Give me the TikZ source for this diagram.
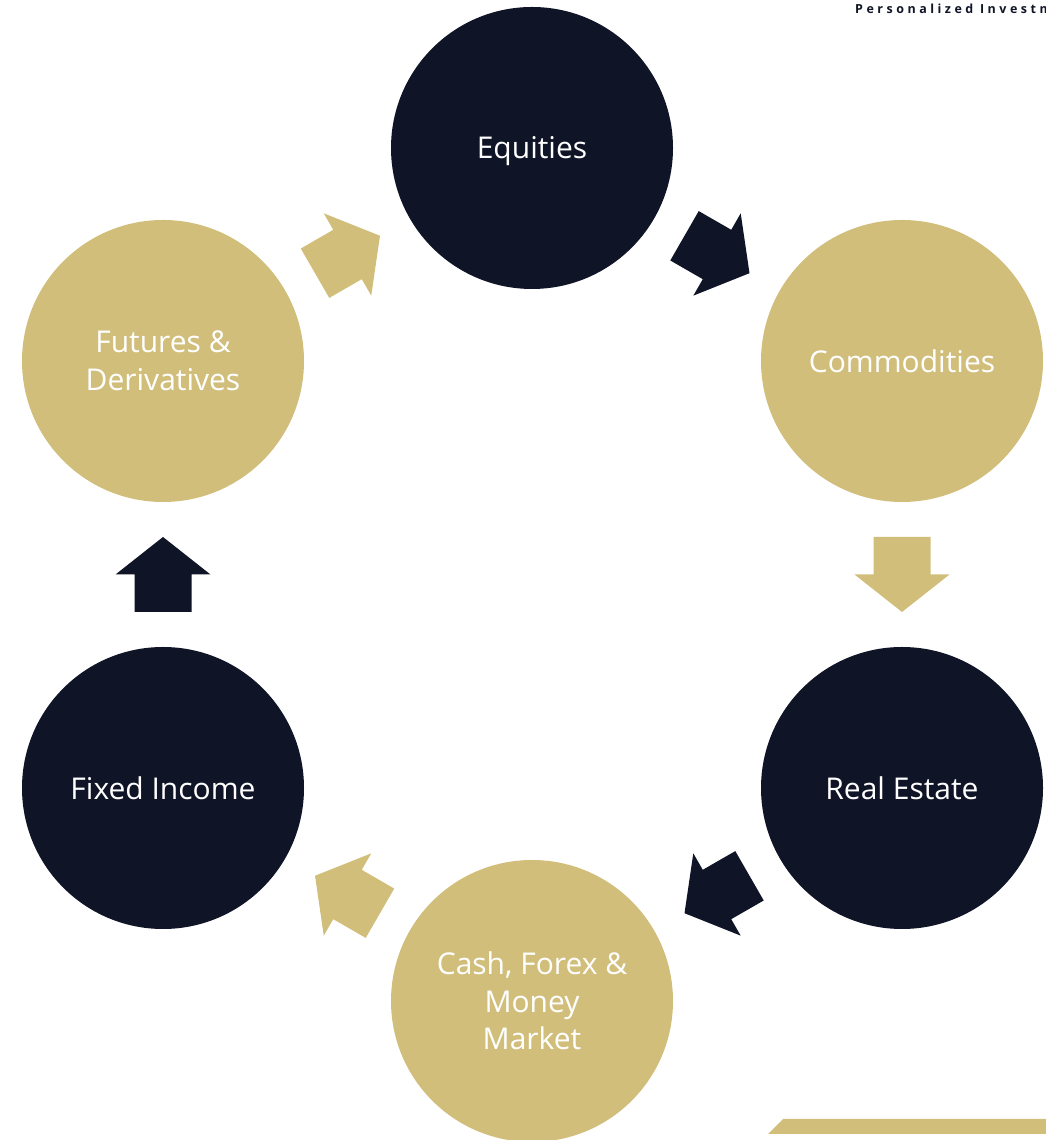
\documentclass[tikz,border=0pt]{standalone}
\usepackage{fontspec}
\setmainfont{Open Sans}
\newfontfamily\headfont[LetterSpace=28]{Open Sans}
\usetikzlibrary{calc}
\definecolor{navy}{RGB}{15,20,38}
\definecolor{gold}{RGB}{209,190,123}
\tikzset{
  x=1pt, y=1pt,
  assetcircle/.style={circle, fill=#1, minimum size=282pt, inner sep=0pt,
    text=white, align=center, font=\fontsize{30}{37.5}\selectfont},
}
% block arrow centred between two circles, pointing from the first to the second
\newcommand{\flowarrow}[3]{%
  \path let \p1=(#1.center), \p2=(#2.center),
            \n1={atan2(\y2-\y1,\x2-\x1)} in
    coordinate (mid) at ($(#1.center)!0.5!(#2.center)$)
    [fill=#3, shift={(mid)}, rotate=\n1]
    (-37.5,-28.5) -- (0,-28.5) -- (0,-47.5) -- (37.5,0) -- (0,47.5)
    -- (0,28.5) -- (-37.5,28.5) -- cycle;}
\begin{document}
\begin{tikzpicture}
\useasboundingbox (0,0) rectangle (1046,1140);
\clip (0,0) rectangle (1046,1140);

% asset classes
\node[assetcircle=navy, text depth=0pt] (eq) at (532,992) {Equities};
\node[assetcircle=gold] (co)   at (902,779) {Commodities};
\node[assetcircle=navy] (re)   at (902,352) {Real Estate};
\node[assetcircle=gold] (cash) at (532,139) {Cash, Forex \&\\Money\\Market};
\node[assetcircle=navy] (fi)   at (163,352) {Fixed Income};
\node[assetcircle=gold] (fut)  at (163,779) {Futures \&\\Derivatives};

% cycle arrows
\flowarrow{eq}{co}{navy}
\flowarrow{co}{re}{gold}
\flowarrow{re}{cash}{navy}
\flowarrow{cash}{fi}{gold}
\flowarrow{fi}{fut}{navy}
\flowarrow{fut}{eq}{gold}

% header and footer band
\node[anchor=west, inner sep=0pt, text=navy,
  font=\headfont\bfseries\fontsize{12.5}{13}\selectfont] (head) at (855,1131.5)
  {Personalized Investm};
\fill[gold] (768,6) -- (783,21) -- (1050,21) -- (1050,6) -- cycle;
\end{tikzpicture}
\end{document}
